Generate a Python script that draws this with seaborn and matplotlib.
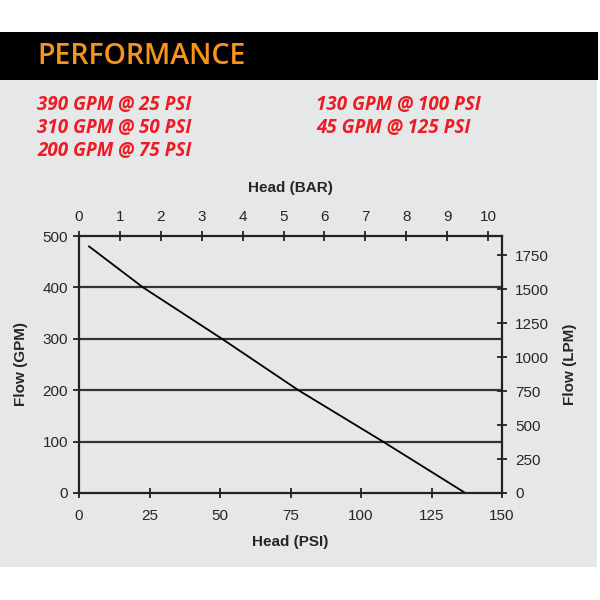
import matplotlib
matplotlib.use("Agg")
import matplotlib.pyplot as plt
import seaborn as sns
import pandas as pd
import numpy as np
from matplotlib.patches import Rectangle

# Curve
head_psi = [3.5, 22.7, 50.7, 77.8, 107.8, 137.0]
flow_gpm = [480, 400, 300, 200, 100, 0]

# Rated points listed above the chart
spec_lines_left = ["390 GPM @ 25 PSI", "310 GPM @ 50 PSI", "200 GPM @ 75 PSI"]
spec_lines_right = ["130 GPM @ 100 PSI", "45 GPM @ 125 PSI"]

psi_ticks = [0, 25, 50, 75, 100, 125, 150]
gpm_ticks = [0, 100, 200, 300, 400, 500]
bar_ticks = [0, 1, 2, 3, 4, 5, 6, 7, 8, 9, 10]
lpm_ticks = [0, 250, 500, 750, 1000, 1250, 1500, 1750]

PSI_PER_BAR = 14.5038
LPM_PER_GPM = 3.78541

sns.set_theme(style="white")
plt.rcParams['font.family'] = ['Liberation Sans', 'DejaVu Sans']

df = pd.DataFrame({"psi": head_psi, "gpm": flow_gpm})

fig = plt.figure(figsize=(6, 6), dpi=100)
fig.patch.set_facecolor("white")

# background panel and header band
fig.patches.append(Rectangle((0, 1 - 567 / 600), 597 / 600, 487 / 600,
                             transform=fig.transFigure, facecolor="#e6e7e8",
                             edgecolor="none", zorder=-10))
fig.patches.append(Rectangle((0, 1 - 80 / 600), 598 / 600, 48 / 600,
                             transform=fig.transFigure, facecolor="black",
                             edgecolor="none", zorder=-10))
fig.text(37 / 600, 1 - 56 / 600, "PERFORMANCE", color="#f7941d", fontsize=20.5,
         family="Open Sans", fontweight="semibold", va="center", ha="left")

red = "#ed1c24"
for i, s in enumerate(spec_lines_left):
    fig.text(37 / 600, 1 - (105 + 23 * i) / 600, s, color=red, fontsize=13.5,
             family="Open Sans", fontweight="bold", style="italic", va="center")
for i, s in enumerate(spec_lines_right):
    fig.text(316 / 600, 1 - (105 + 23 * i) / 600, s, color=red, fontsize=13.5,
             family="Open Sans", fontweight="bold", style="italic", va="center")

ax = fig.add_axes([79 / 600, 1 - 493 / 600, 423 / 600, 257 / 600])
ax.set_facecolor("none")

sns.lineplot(data=df, x="psi", y="gpm", ax=ax, color="black", linewidth=1.3)

for g in gpm_ticks[1:-1]:
    ax.axhline(g, color="#333333", linewidth=1.6, zorder=1)

ax.set_xlim(0, 150)
ax.set_ylim(0, 500)
ax.set_xticks(psi_ticks)
ax.set_yticks(gpm_ticks)
for sp in ax.spines.values():
    sp.set_color("#222222")
    sp.set_linewidth(1.6)
ax.tick_params(axis="x", direction="inout", length=7, width=1.3, labelsize=11,
               color="#222222", pad=8)
ax.tick_params(axis="y", direction="out", length=4, width=1.3, labelsize=11,
               color="#222222", pad=4, left=True)
ax.tick_params(axis="x", bottom=True)
ax.set_xlabel("Head (PSI)", fontsize=11, fontweight="bold", labelpad=9)
ax.set_ylabel("Flow (GPM)", fontsize=11, fontweight="bold", labelpad=10)

top = ax.secondary_xaxis("top", functions=(lambda p: p / PSI_PER_BAR,
                                           lambda b: b * PSI_PER_BAR))
top.set_xticks(bar_ticks)
top.tick_params(direction="inout", length=7, width=1.3, labelsize=11,
                color="#222222", pad=5)
top.set_xlabel("Head (BAR)", fontsize=11, fontweight="bold", labelpad=13)
top.spines["top"].set_visible(False)

right = ax.secondary_yaxis("right", functions=(lambda g: g * LPM_PER_GPM,
                                               lambda l: l / LPM_PER_GPM))
right.set_yticks(lpm_ticks)
right.tick_params(direction="inout", length=7, width=1.3, labelsize=11,
                  color="#222222", pad=6)
right.set_ylabel("Flow (LPM)", fontsize=11, fontweight="bold", labelpad=10)
right.spines["right"].set_visible(False)

fig.savefig("out.png", dpi=100)
plt.close(fig)
